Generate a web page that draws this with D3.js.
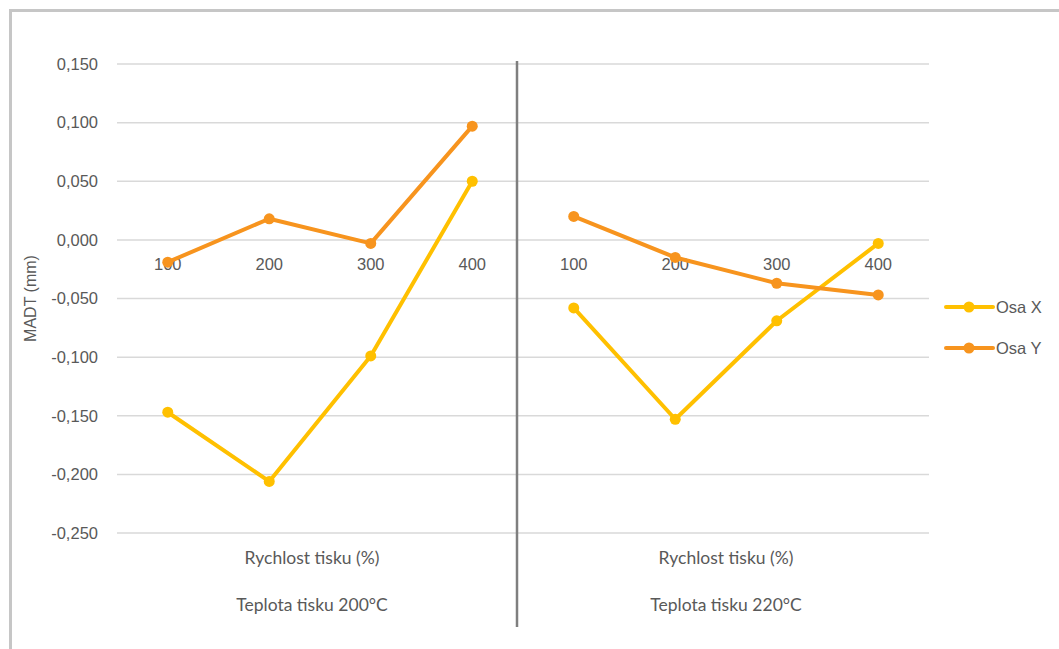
<!DOCTYPE html>
<html>
<head>
<meta charset="utf-8">
<script src="https://cdn.jsdelivr.net/npm/d3@7"></script>
<style>
  html, body { margin: 0; padding: 0; background: #fff; }
  svg { display: block; }
</style>
</head>
<body>
<svg id="chart" width="1059" height="649"></svg>
<script>
// Speeds (%) within each print temperature group
const speeds = ["100", "200", "300", "400"];
const groups = ["Teplota tisku 200°C", "Teplota tisku 220°C"];
const subTitle = "Rychlost tisku (%)";

// MADT values in mm, 4 speeds for 200°C followed by 4 speeds for 220°C
const osaX = [-0.147, -0.206, -0.099, 0.050, -0.058, -0.153, -0.069, -0.003];
const osaY = [-0.019, 0.018, -0.003, 0.097, 0.020, -0.015, -0.037, -0.047];

const yTicks = [0.15, 0.10, 0.05, 0, -0.05, -0.10, -0.15, -0.20, -0.25];

const seriesList = [
  { name: "Osa X", values: osaX, color: "#FFC000" },
  { name: "Osa Y", values: osaY, color: "#F7941E" }
];

const svg = d3.select("#chart");
const plotL = 117, plotR = 929, plotT = 64, plotB = 533;
const numFont = "'Liberation Sans', Arial, sans-serif";
const catFont = "Lato, 'Open Sans', sans-serif";
const textColor = "#595959";

// Outer frame (top and left edges visible)
svg.append("path")
  .attr("d", "M10.5,649 V10.5 H1059")
  .attr("fill", "none").attr("stroke", "#c6c6c6").attr("stroke-width", 3);

const keys = [];
groups.forEach((g, gi) => speeds.forEach((s, si) => keys.push(gi + "-" + si)));

const x = d3.scaleBand().domain(keys).range([plotL, plotR]);
const y = d3.scaleLinear().domain([-0.25, 0.15]).range([plotB, plotT]);

const fmt = v => d3.format(".3f")(v).replace(".", ",").replace("−", "-");

// Horizontal gridlines
svg.append("g").selectAll("line").data(yTicks).join("line")
  .attr("x1", plotL).attr("x2", plotR)
  .attr("y1", d => y(d)).attr("y2", d => y(d))
  .attr("stroke", "#d9d9d9").attr("stroke-width", 1.5);

// Y axis labels
const yAxis = d3.axisLeft(y).tickValues(yTicks).tickFormat(fmt).tickSize(0).tickPadding(0);
const yg = svg.append("g").attr("transform", `translate(${plotL - 19},0)`).call(yAxis);
yg.select(".domain").remove();
yg.selectAll("text")
  .attr("fill", textColor)
  .style("font-family", numFont)
  .style("font-size", "16.5px");

// Y axis title
svg.append("text")
  .attr("transform", `translate(36,${(plotT + plotB) / 2}) rotate(-90)`)
  .attr("text-anchor", "middle")
  .attr("fill", textColor)
  .style("font-family", numFont)
  .style("font-size", "16px")
  .text("MADT (mm)");

// Speed labels sitting under the zero line
const xAxis = d3.axisBottom(x).tickFormat(k => speeds[+k.split("-")[1]]).tickSize(0).tickPadding(18);
const xg = svg.append("g").attr("transform", `translate(0,${y(0)})`).call(xAxis);
xg.select(".domain").remove();
xg.selectAll("text")
  .attr("fill", textColor)
  .style("font-family", numFont)
  .style("font-size", "16.5px");

// Group separator
const sepX = x(keys[4]) - 6;
svg.append("line")
  .attr("x1", sepX).attr("x2", sepX)
  .attr("y1", 61).attr("y2", 627)
  .attr("stroke", "#7f7f7f").attr("stroke-width", 2.5);

// Group labels
groups.forEach((g, gi) => {
  const k0 = keys[gi * 4], k3 = keys[gi * 4 + 3];
  const cx = (x(k0) + x(k3) + x.bandwidth()) / 2 - (gi === 0 ? 8 : 0);
  svg.append("text")
    .attr("x", cx).attr("y", 564)
    .attr("text-anchor", "middle").attr("fill", textColor)
    .style("font-family", catFont).style("font-size", "17.5px")
    .text(subTitle);
  svg.append("text")
    .attr("x", cx).attr("y", 611)
    .attr("text-anchor", "middle").attr("fill", textColor)
    .style("font-family", catFont).style("font-size", "17.5px")
    .text(g);
});

// Series lines and markers (separate line per group)
const line = d3.line().x(d => x(d.k) + x.bandwidth() / 2).y(d => y(d.v));
seriesList.forEach(s => {
  const pts = s.values.map((v, i) => ({ k: keys[i], v }));
  [pts.slice(0, 4), pts.slice(4)].forEach(seg => {
    svg.append("path").datum(seg)
      .attr("d", line).attr("fill", "none")
      .attr("stroke", s.color).attr("stroke-width", 4)
      .attr("stroke-linejoin", "round").attr("stroke-linecap", "round");
  });
  svg.append("g").selectAll("circle").data(pts).join("circle")
    .attr("cx", d => x(d.k) + x.bandwidth() / 2)
    .attr("cy", d => y(d.v))
    .attr("r", 5.5).attr("fill", s.color);
});

// Legend
const lg = svg.append("g");
seriesList.forEach((s, i) => {
  const ly = 307 + i * 41;
  lg.append("line").attr("x1", 946).attr("x2", 993).attr("y1", ly).attr("y2", ly)
    .attr("stroke", s.color).attr("stroke-width", 4).attr("stroke-linecap", "round");
  lg.append("circle").attr("cx", 969).attr("cy", ly).attr("r", 5.5).attr("fill", s.color);
  lg.append("text").attr("x", 996).attr("y", ly + 6)
    .attr("fill", textColor)
    .style("font-family", numFont).style("font-size", "16.5px")
    .text(s.name);
});
</script>
</body>
</html>
